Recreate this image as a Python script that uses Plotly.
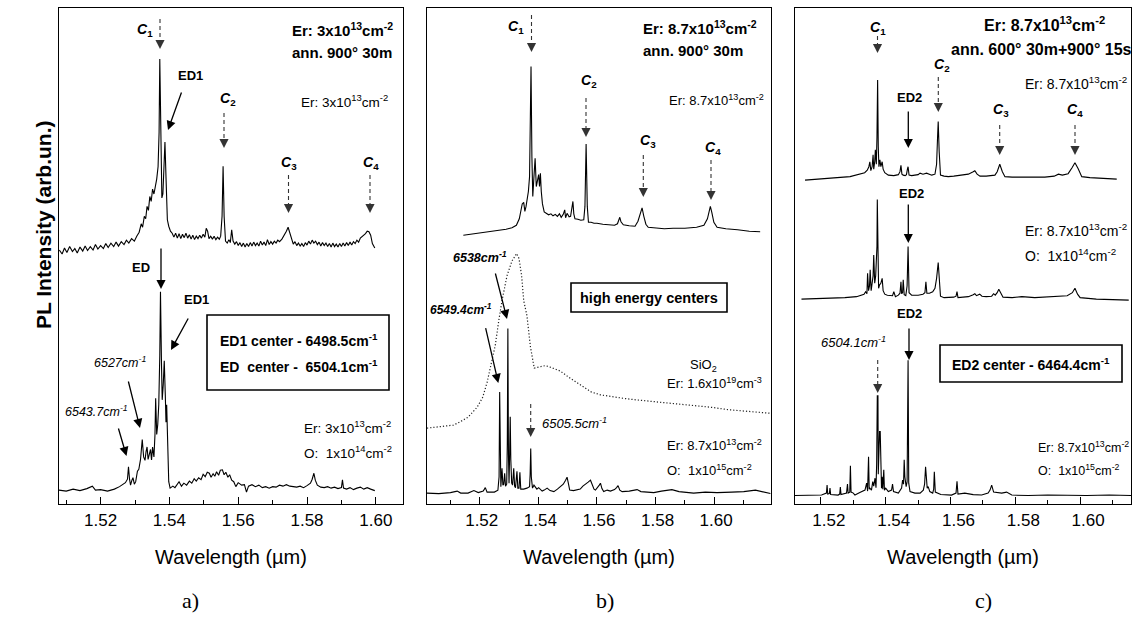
import plotly.graph_objects as go

W, H = 1138, 622

# ---------------- data (wavelength um, intensity arb. units; 0..100 = panel height) -------------
A_TOP = [
    (1.5080, 51.2), (1.5088, 50.4), (1.5095, 51.6), (1.5102, 50.7), (1.5110, 51.9), (1.5118, 50.9),
    (1.5125, 51.5), (1.5132, 50.6), (1.5140, 51.8), (1.5148, 51.0), (1.5155, 52.0), (1.5162, 51.1),
    (1.5170, 51.9), (1.5178, 51.2), (1.5185, 52.3), (1.5192, 51.4), (1.5200, 52.1), (1.5208, 51.5),
    (1.5215, 52.5), (1.5222, 51.7), (1.5230, 52.6), (1.5238, 51.9), (1.5245, 52.8), (1.5252, 52.0),
    (1.5260, 52.9), (1.5268, 52.3), (1.5275, 53.2), (1.5282, 52.6), (1.5290, 53.5), (1.5298, 53.0),
    (1.5305, 54.0), (1.5312, 54.8), (1.5318, 56.5), (1.5322, 55.8), (1.5327, 58.0), (1.5331, 57.5),
    (1.5335, 60.0), (1.5339, 59.2), (1.5343, 62.0), (1.5347, 61.0), (1.5351, 63.5), (1.5355, 62.5),
    (1.5359, 64.0), (1.5363, 65.5), (1.5367, 68.0), (1.5370, 75.0), (1.5372, 89.7), (1.5375, 72.0),
    (1.5378, 61.7), (1.5381, 62.5), (1.5384, 68.0), (1.5387, 73.0), (1.5390, 66.0), (1.5394, 57.3),
    (1.5398, 56.0), (1.5403, 55.0), (1.5408, 54.6), (1.5413, 53.8), (1.5418, 54.6), (1.5423, 53.6),
    (1.5428, 54.5), (1.5433, 53.5), (1.5438, 54.4), (1.5443, 53.7), (1.5448, 54.6), (1.5453, 53.6),
    (1.5458, 54.3), (1.5463, 53.4), (1.5468, 54.2), (1.5473, 53.3), (1.5478, 54.0), (1.5483, 53.5),
    (1.5488, 54.2), (1.5493, 53.6), (1.5498, 54.4), (1.5503, 53.8), (1.5507, 55.6), (1.5511, 55.0),
    (1.5515, 53.5), (1.5520, 54.0), (1.5525, 53.4), (1.5530, 54.0), (1.5535, 53.3), (1.5540, 53.8),
    (1.5545, 53.4), (1.5549, 54.0), (1.5553, 58.0), (1.5556, 68.1), (1.5559, 58.0), (1.5563, 53.0),
    (1.5568, 52.6), (1.5573, 53.3), (1.5577, 52.7), (1.5581, 55.3), (1.5585, 53.0), (1.5590, 52.4),
    (1.5595, 52.9), (1.5600, 52.1), (1.5605, 52.7), (1.5610, 51.9), (1.5615, 52.6), (1.5620, 51.8),
    (1.5625, 52.5), (1.5630, 51.9), (1.5635, 52.7), (1.5640, 52.0), (1.5645, 52.8), (1.5650, 52.1),
    (1.5655, 52.6), (1.5660, 52.0), (1.5665, 53.0), (1.5670, 52.2), (1.5675, 52.8), (1.5680, 52.1),
    (1.5685, 53.3), (1.5690, 52.3), (1.5695, 52.9), (1.5700, 52.4), (1.5705, 53.0), (1.5710, 52.6),
    (1.5715, 53.2), (1.5720, 52.9), (1.5727, 53.4), (1.5735, 54.3), (1.5740, 55.0), (1.5745, 55.8),
    (1.5750, 54.5), (1.5755, 53.2), (1.5760, 52.4), (1.5765, 52.9), (1.5770, 52.1), (1.5775, 52.6),
    (1.5780, 52.0), (1.5785, 52.5), (1.5790, 51.9), (1.5795, 52.7), (1.5800, 52.2), (1.5805, 53.0),
    (1.5810, 52.4), (1.5815, 53.2), (1.5820, 52.6), (1.5825, 53.0), (1.5830, 52.3), (1.5835, 52.8),
    (1.5840, 52.0), (1.5845, 52.7), (1.5850, 52.1), (1.5855, 52.6), (1.5860, 51.9), (1.5865, 52.5),
    (1.5870, 51.8), (1.5875, 52.6), (1.5880, 51.9), (1.5885, 52.4), (1.5890, 51.8), (1.5895, 52.5),
    (1.5900, 51.9), (1.5905, 52.6), (1.5910, 52.0), (1.5915, 52.7), (1.5920, 52.1), (1.5925, 52.8),
    (1.5930, 52.2), (1.5935, 52.9), (1.5940, 52.5), (1.5945, 53.2), (1.5950, 52.8), (1.5955, 53.6),
    (1.5962, 54.0), (1.5970, 54.5), (1.5975, 55.0), (1.5980, 54.9), (1.5985, 54.2), (1.5990, 52.5),
    (1.5997, 51.6),
]

A_BOT = [
    (1.5079, 2.8), (1.5100, 2.6), (1.5120, 3.0), (1.5140, 2.7), (1.5160, 3.1), (1.5176, 3.6),
    (1.5185, 2.8), (1.5200, 2.9), (1.5220, 2.6), (1.5240, 3.0), (1.5255, 3.5), (1.5265, 4.0),
    (1.5272, 4.3), (1.5278, 5.0), (1.5281, 7.5), (1.5284, 5.0), (1.5287, 3.8), (1.5291, 4.8),
    (1.5294, 5.3), (1.5298, 4.0), (1.5302, 4.5), (1.5307, 6.6), (1.5311, 7.0), (1.5316, 9.0),
    (1.5321, 13.0), (1.5325, 9.5), (1.5329, 8.8), (1.5332, 10.5), (1.5335, 11.5), (1.5338, 9.0),
    (1.5342, 10.5), (1.5345, 11.0), (1.5348, 8.9), (1.5351, 11.5), (1.5355, 9.5), (1.5358, 14.0),
    (1.5360, 21.3), (1.5363, 14.0), (1.5366, 16.0), (1.5369, 20.0), (1.5372, 30.0), (1.5374, 42.8),
    (1.5377, 28.0), (1.5379, 21.0), (1.5382, 24.0), (1.5385, 28.9), (1.5388, 22.0), (1.5390, 16.5),
    (1.5392, 20.0), (1.5395, 12.0), (1.5398, 4.5), (1.5402, 3.2), (1.5410, 3.6), (1.5416, 3.3),
    (1.5428, 4.5), (1.5435, 3.6), (1.5442, 4.2), (1.5450, 3.8), (1.5458, 4.6), (1.5465, 4.2),
    (1.5472, 5.1), (1.5478, 4.6), (1.5485, 5.3), (1.5492, 4.9), (1.5498, 6.0), (1.5504, 5.5),
    (1.5510, 6.4), (1.5516, 6.2), (1.5521, 5.4), (1.5527, 6.1), (1.5532, 5.6), (1.5537, 6.5),
    (1.5543, 5.8), (1.5548, 6.8), (1.5554, 6.9), (1.5559, 5.9), (1.5564, 6.4), (1.5570, 5.4),
    (1.5575, 5.9), (1.5581, 4.8), (1.5587, 4.5), (1.5593, 3.5), (1.5600, 4.3), (1.5610, 3.8),
    (1.5618, 3.9), (1.5624, 2.4), (1.5630, 3.6), (1.5640, 3.9), (1.5650, 3.5), (1.5660, 3.8),
    (1.5670, 3.3), (1.5680, 3.5), (1.5690, 3.2), (1.5700, 3.5), (1.5710, 3.4), (1.5720, 3.8),
    (1.5730, 3.6), (1.5740, 3.9), (1.5750, 3.6), (1.5760, 3.5), (1.5770, 3.4), (1.5780, 3.6),
    (1.5790, 3.3), (1.5800, 3.7), (1.5810, 4.2), (1.5815, 5.0), (1.5820, 6.2), (1.5824, 4.8),
    (1.5830, 3.8), (1.5840, 3.4), (1.5850, 3.3), (1.5860, 3.5), (1.5870, 3.2), (1.5880, 3.4),
    (1.5890, 3.1), (1.5900, 3.3), (1.5903, 4.9), (1.5906, 3.2), (1.5915, 3.0), (1.5925, 3.3),
    (1.5935, 2.9), (1.5945, 3.2), (1.5955, 3.4), (1.5965, 3.0), (1.5975, 3.3), (1.5985, 3.0),
    (1.5997, 2.7),
]

B_TOP = [
    (1.5144, 54.2), (1.5170, 54.4), (1.5200, 54.6), (1.5230, 54.8), (1.5260, 55.1), (1.5290, 55.4),
    (1.5310, 55.7), (1.5325, 56.2), (1.5335, 57.5), (1.5341, 59.3), (1.5345, 60.5), (1.5350, 60.8),
    (1.5354, 59.0), (1.5358, 60.0), (1.5362, 61.5), (1.5366, 63.0), (1.5370, 66.0), (1.5373, 75.0),
    (1.5375, 88.2), (1.5378, 70.0), (1.5381, 62.0), (1.5385, 66.0), (1.5389, 69.7), (1.5393, 64.0),
    (1.5397, 65.5), (1.5401, 66.4), (1.5404, 64.0), (1.5407, 66.7), (1.5410, 63.0), (1.5414, 60.5),
    (1.5420, 58.9), (1.5428, 58.6), (1.5435, 58.3), (1.5443, 58.5), (1.5450, 58.1), (1.5458, 58.4),
    (1.5465, 58.0), (1.5472, 58.5), (1.5478, 57.8), (1.5485, 58.4), (1.5490, 59.3), (1.5493, 57.7),
    (1.5498, 58.6), (1.5505, 57.9), (1.5510, 58.0), (1.5514, 59.5), (1.5518, 61.0), (1.5521, 58.5),
    (1.5525, 57.5), (1.5535, 57.4), (1.5545, 57.2), (1.5555, 57.3), (1.5559, 60.0), (1.5563, 72.6),
    (1.5567, 60.0), (1.5571, 56.8), (1.5580, 56.8), (1.5590, 56.6), (1.5600, 56.6), (1.5620, 56.4),
    (1.5640, 56.3), (1.5660, 56.2), (1.5670, 56.5), (1.5675, 57.4), (1.5678, 57.8), (1.5682, 56.9),
    (1.5690, 56.3), (1.5710, 56.1), (1.5730, 56.0), (1.5740, 57.0), (1.5747, 58.3), (1.5754, 59.7),
    (1.5760, 58.0), (1.5767, 56.4), (1.5775, 55.8), (1.5800, 55.6), (1.5830, 55.5), (1.5860, 55.6),
    (1.5900, 55.6), (1.5940, 55.8), (1.5965, 56.2), (1.5977, 57.5), (1.5982, 58.8), (1.5987, 60.0),
    (1.5992, 58.8), (1.5999, 56.8), (1.6010, 55.8), (1.6040, 55.5), (1.6080, 55.3), (1.6120, 55.0),
    (1.6157, 54.9),
]

B_SIO2 = [
    (1.5020, 15.3), (1.5050, 15.5), (1.5080, 15.6), (1.5110, 15.9), (1.5134, 16.6), (1.5160, 17.5),
    (1.5191, 19.5), (1.5210, 21.5), (1.5225, 24.5), (1.5240, 28.5), (1.5253, 32.0), (1.5265, 37.0),
    (1.5276, 41.0), (1.5293, 46.0), (1.5310, 49.0), (1.5326, 50.5), (1.5334, 49.5), (1.5343, 46.0),
    (1.5350, 41.0), (1.5361, 38.0), (1.5373, 31.7), (1.5386, 27.4), (1.5400, 27.6), (1.5424, 27.9),
    (1.5445, 27.5), (1.5475, 26.8), (1.5510, 25.3), (1.5543, 24.0), (1.5580, 22.6), (1.5612, 22.0),
    (1.5660, 21.5), (1.5703, 21.2), (1.5750, 20.9), (1.5800, 20.6), (1.5873, 20.3), (1.5920, 19.9),
    (1.5990, 19.5), (1.6050, 19.0), (1.6120, 18.6), (1.6191, 18.3),
]

B_BOT = [
    (1.5020, 2.2), (1.5060, 2.1), (1.5100, 2.3), (1.5123, 2.6), (1.5135, 2.2), (1.5160, 2.2),
    (1.5180, 2.7), (1.5195, 2.3), (1.5212, 2.6), (1.5219, 3.3), (1.5225, 2.4), (1.5250, 2.4),
    (1.5262, 2.8), (1.5266, 5.5), (1.5268, 22.6), (1.5270, 6.0), (1.5272, 3.5), (1.5276, 7.2),
    (1.5279, 3.8), (1.5282, 4.0), (1.5285, 6.2), (1.5288, 3.6), (1.5292, 4.0), (1.5294, 12.0),
    (1.5296, 35.4), (1.5298, 10.0), (1.5300, 4.2), (1.5302, 10.0), (1.5304, 17.6), (1.5306, 9.0),
    (1.5309, 4.2), (1.5312, 3.8), (1.5316, 7.2), (1.5319, 3.6), (1.5322, 3.3), (1.5327, 6.6),
    (1.5330, 3.2), (1.5334, 3.2), (1.5337, 6.4), (1.5340, 3.0), (1.5350, 3.0), (1.5361, 3.2),
    (1.5370, 3.5), (1.5372, 6.0), (1.5374, 11.2), (1.5376, 5.5), (1.5380, 3.2), (1.5385, 3.8),
    (1.5390, 3.5), (1.5395, 3.0), (1.5401, 3.3), (1.5408, 2.9), (1.5413, 2.6), (1.5420, 2.8),
    (1.5430, 3.2), (1.5440, 2.7), (1.5453, 2.5), (1.5465, 3.0), (1.5475, 3.5), (1.5485, 4.0),
    (1.5493, 4.8), (1.5498, 5.4), (1.5503, 4.0), (1.5507, 2.8), (1.5520, 2.7), (1.5535, 2.9),
    (1.5543, 3.0), (1.5552, 3.6), (1.5560, 3.9), (1.5570, 4.4), (1.5578, 4.8), (1.5584, 3.9),
    (1.5590, 3.0), (1.5595, 2.8), (1.5603, 3.3), (1.5608, 3.8), (1.5612, 4.2), (1.5617, 3.1),
    (1.5623, 2.5), (1.5635, 2.8), (1.5646, 2.6), (1.5660, 2.9), (1.5667, 3.3), (1.5672, 3.7),
    (1.5678, 2.8), (1.5686, 2.5), (1.5710, 2.6), (1.5737, 2.9), (1.5750, 2.5), (1.5770, 2.4),
    (1.5794, 2.3), (1.5820, 2.6), (1.5856, 2.9), (1.5880, 2.5), (1.5910, 2.3), (1.5930, 2.2),
    (1.5970, 2.4), (1.6010, 2.3), (1.6060, 2.4), (1.6101, 2.5), (1.6141, 2.8), (1.6170, 2.4),
    (1.6192, 2.1),
]

C_TOP = [
    (1.5151, 65.3), (1.5200, 65.6), (1.5250, 65.8), (1.5290, 66.0), (1.5320, 66.5), (1.5335, 66.8),
    (1.5343, 67.3), (1.5348, 68.0), (1.5351, 69.0), (1.5354, 67.2), (1.5358, 68.0), (1.5361, 70.4),
    (1.5363, 67.5), (1.5366, 69.0), (1.5368, 71.4), (1.5371, 68.5), (1.5373, 74.0), (1.5375, 85.5),
    (1.5377, 72.0), (1.5379, 68.0), (1.5382, 69.4), (1.5385, 68.0), (1.5389, 69.0), (1.5392, 67.5),
    (1.5397, 66.8), (1.5408, 66.3), (1.5425, 66.2), (1.5439, 66.4), (1.5444, 67.0), (1.5447, 68.3),
    (1.5450, 66.5), (1.5454, 66.3), (1.5460, 66.2), (1.5464, 66.4), (1.5467, 67.5), (1.5469, 68.0),
    (1.5472, 66.3), (1.5480, 66.2), (1.5490, 66.3), (1.5500, 66.4), (1.5506, 66.7), (1.5515, 66.5),
    (1.5526, 66.7), (1.5535, 66.4), (1.5542, 66.3), (1.5552, 66.5), (1.5557, 68.5), (1.5560, 74.0),
    (1.5562, 77.1), (1.5565, 71.0), (1.5569, 66.3), (1.5580, 66.1), (1.5593, 66.0), (1.5610, 66.1),
    (1.5619, 66.2), (1.5640, 66.3), (1.5655, 66.5), (1.5670, 67.0), (1.5675, 67.2), (1.5682, 66.5),
    (1.5691, 66.1), (1.5710, 66.1), (1.5727, 66.2), (1.5737, 66.3), (1.5744, 67.0), (1.5752, 68.5),
    (1.5760, 67.0), (1.5768, 66.0), (1.5790, 65.9), (1.5819, 65.9), (1.5860, 66.0), (1.5891, 65.9),
    (1.5920, 66.1), (1.5933, 66.5), (1.5945, 66.3), (1.5963, 66.6), (1.5975, 67.8), (1.5984, 68.8),
    (1.5994, 67.6), (1.6005, 66.0), (1.6030, 65.8), (1.6060, 65.7), (1.6090, 65.6), (1.6113, 65.5),
]

C_MID = [
    (1.5140, 41.3), (1.5190, 41.4), (1.5240, 41.5), (1.5274, 41.6), (1.5310, 41.8), (1.5326, 42.1),
    (1.5333, 42.3), (1.5338, 42.8), (1.5342, 42.4), (1.5344, 46.5), (1.5347, 43.0), (1.5350, 44.0),
    (1.5352, 47.2), (1.5355, 43.0), (1.5358, 44.5), (1.5361, 46.0), (1.5363, 50.2), (1.5366, 44.5),
    (1.5369, 46.0), (1.5371, 50.7), (1.5373, 52.0), (1.5374, 61.4), (1.5376, 50.0), (1.5378, 43.5),
    (1.5381, 44.2), (1.5385, 44.5), (1.5389, 45.5), (1.5392, 43.0), (1.5397, 42.3), (1.5405, 42.1),
    (1.5421, 42.0), (1.5425, 42.8), (1.5430, 41.8), (1.5439, 42.1), (1.5444, 42.5), (1.5447, 44.8),
    (1.5449, 42.4), (1.5452, 42.6), (1.5454, 45.2), (1.5457, 42.2), (1.5462, 42.0), (1.5466, 44.0),
    (1.5469, 51.9), (1.5472, 42.6), (1.5480, 42.1), (1.5500, 42.1), (1.5515, 42.3), (1.5521, 42.6),
    (1.5524, 44.8), (1.5527, 42.5), (1.5535, 42.5), (1.5545, 42.8), (1.5552, 43.5), (1.5557, 45.5),
    (1.5562, 48.7), (1.5566, 44.0), (1.5569, 41.9), (1.5580, 41.6), (1.5593, 41.6), (1.5610, 41.7),
    (1.5617, 41.9), (1.5620, 42.8), (1.5623, 41.6), (1.5640, 41.7), (1.5655, 41.8), (1.5670, 42.2),
    (1.5675, 42.4), (1.5680, 42.0), (1.5690, 42.3), (1.5697, 41.9), (1.5710, 41.8), (1.5727, 41.9),
    (1.5733, 42.4), (1.5738, 42.1), (1.5744, 42.6), (1.5749, 43.3), (1.5755, 42.4), (1.5762, 41.7),
    (1.5790, 41.6), (1.5820, 41.8), (1.5860, 41.6), (1.5900, 41.8), (1.5960, 42.0), (1.5976, 42.6),
    (1.5984, 43.5), (1.5992, 42.3), (1.6000, 41.6), (1.6050, 41.3), (1.6100, 41.2), (1.6150, 41.1),
]

C_BOT = [
    (1.5120, 1.7), (1.5160, 1.8), (1.5202, 1.8), (1.5217, 2.2), (1.5219, 3.8), (1.5221, 2.0),
    (1.5226, 2.1), (1.5228, 3.2), (1.5230, 1.9), (1.5253, 1.8), (1.5258, 2.0), (1.5260, 3.4),
    (1.5262, 1.9), (1.5279, 2.2), (1.5282, 4.0), (1.5284, 2.2), (1.5289, 2.4), (1.5291, 7.7),
    (1.5293, 2.4), (1.5300, 2.2), (1.5305, 1.8), (1.5320, 2.3), (1.5326, 2.5), (1.5336, 2.8),
    (1.5341, 4.2), (1.5344, 2.6), (1.5347, 9.5), (1.5349, 3.0), (1.5351, 3.2), (1.5356, 2.8),
    (1.5360, 4.5), (1.5363, 3.6), (1.5367, 5.2), (1.5370, 3.3), (1.5372, 8.0), (1.5374, 21.8),
    (1.5376, 21.8), (1.5377, 6.0), (1.5379, 12.0), (1.5381, 14.6), (1.5383, 14.6), (1.5385, 5.0),
    (1.5387, 3.2), (1.5389, 5.5), (1.5391, 3.0), (1.5394, 6.9), (1.5396, 2.8), (1.5400, 3.2),
    (1.5408, 2.5), (1.5418, 2.8), (1.5421, 4.0), (1.5424, 2.5), (1.5439, 2.2), (1.5449, 3.2),
    (1.5452, 4.8), (1.5455, 4.0), (1.5457, 8.9), (1.5459, 5.5), (1.5463, 3.5), (1.5466, 4.5),
    (1.5469, 29.0), (1.5471, 4.2), (1.5475, 2.5), (1.5490, 2.2), (1.5506, 2.2), (1.5516, 2.8),
    (1.5520, 4.0), (1.5523, 7.5), (1.5526, 3.5), (1.5528, 3.2), (1.5531, 3.5), (1.5536, 2.5),
    (1.5545, 2.2), (1.5548, 3.0), (1.5550, 6.5), (1.5553, 2.4), (1.5570, 1.9), (1.5603, 1.8),
    (1.5617, 2.2), (1.5620, 4.6), (1.5623, 2.0), (1.5644, 2.2), (1.5670, 1.9), (1.5696, 1.8),
    (1.5716, 2.2), (1.5722, 2.8), (1.5727, 3.8), (1.5733, 2.4), (1.5758, 2.2), (1.5773, 2.4),
    (1.5789, 1.8), (1.5840, 1.7), (1.5900, 1.8), (1.5960, 1.7), (1.6020, 1.7), (1.6090, 1.8),
    (1.6159, 1.7),
]

X_RANGES = {"a": [1.5079, 1.6079], "b": [1.5020, 1.6194], "c": [1.5120, 1.6157]}
TICK_LABEL_FMT = ".2f"

# ---------------- figure ----------------
SANS = "Liberation Sans, Arial, sans-serif"
SERIF = "Liberation Serif, Times New Roman, serif"

fig = go.Figure()


def add_spec(points, xa, ya, dash="solid", width=1.1, color="black"):
    xs = [p[0] for p in points]
    ys = [p[1] for p in points]
    fig.add_trace(go.Scatter(x=xs, y=ys, mode="lines", xaxis=xa, yaxis=ya,
                             line=dict(color=color, width=width, dash=dash),
                             showlegend=False, hoverinfo="skip"))


add_spec(A_TOP, "x", "y")
add_spec(A_BOT, "x", "y")
add_spec(B_TOP, "x2", "y2")
add_spec(B_SIO2, "x2", "y2", dash="1.2px,2px", width=1.2, color="#222")
add_spec(B_BOT, "x2", "y2")
add_spec(C_TOP, "x3", "y3")
add_spec(C_MID, "x3", "y3")
add_spec(C_BOT, "x3", "y3")


def xdom(p0, p1):
    return [p0 / W, p1 / W]


YDOM = [1 - 504 / H, 1 - 8 / H]


def xaxis(rng, dom, anchor, shift=0):
    return dict(domain=dom, range=rng, anchor=anchor, tickmode="linear", tick0=1.50, dtick=0.02,
                tickformat=TICK_LABEL_FMT, ticks="inside", ticklen=7, tickwidth=1, tickcolor="black",
                minor=dict(tick0=1.50, dtick=0.01, ticks="inside", ticklen=4, tickwidth=1, tickcolor="black"),
                showline=True, linecolor="black", linewidth=1.3, mirror=True, showgrid=False,
                zeroline=False, tickfont=dict(family=SANS, size=17, color="black"),
                ticklabelshift=shift, fixedrange=True)


def yaxis(anchor):
    return dict(domain=YDOM, range=[0, 100], anchor=anchor, showticklabels=False, ticks="",
                showline=True, linecolor="black", linewidth=1.3, mirror=True, showgrid=False,
                zeroline=False, fixedrange=True)


ann = []
shapes = []


def PX(px):
    return px / W


def PY(py):
    return 1 - py / H


def T(px, py, text, size, xanchor="center", family=SANS, angle=0, color="black"):
    ann.append(dict(x=PX(px), y=PY(py), xref="paper", yref="paper", text=text, showarrow=False,
                    xanchor=xanchor, yanchor="middle", textangle=angle,
                    font=dict(family=family, size=size, color=color)))


def ARROW(x0, y0, x1, y1, color="black"):
    ann.append(dict(x=PX(x1), y=PY(y1), xref="paper", yref="paper", text="", showarrow=True,
                    ax=x0 - x1, ay=y0 - y1, arrowhead=2, arrowsize=1.4, arrowwidth=1.3,
                    arrowcolor=color, standoff=0))


def DARROW(x, y0, y1, color="#333"):
    shapes.append(dict(type="line", xref="paper", yref="paper", x0=PX(x), x1=PX(x),
                       y0=PY(y0), y1=PY(y1 - 8), line=dict(color=color, width=1.1, dash="4px,3px")))
    ARROW(x, y1 - 9, x, y1, color=color)


def RECT(x0, y0, x1, y1):
    shapes.append(dict(type="rect", xref="paper", yref="paper", x0=PX(x0), x1=PX(x1),
                       y0=PY(y1), y1=PY(y0), line=dict(color="black", width=1.6),
                       fillcolor="white", layer="above"))


def C(n):
    return "<b><i>C</i><sub>%d</sub></b>" % n


NB = "\u00a0"
ER87 = "Er: 8.7x10<sup>13</sup>cm<sup>-2</sup>"
ER3 = "Er: 3x10<sup>13</sup>cm<sup>-2</sup>"

# ---- panel a ----
T(145, 30, C(1), 14)
DARROW(160, 19, 49)
T(290, 30, "<b>" + ER3 + "</b>", 15, xanchor="left")
T(290, 52, "<b>ann. 900° 30m</b>", 15, xanchor="left")
T(190, 75, "<b>ED1</b>", 13)
ARROW(182, 91, 168, 130)
T(228, 99, C(2), 14)
DARROW(224, 113, 148)
T(299, 101, ER3, 13.5, xanchor="left")
T(289, 163, C(3), 14)
DARROW(288.5, 175, 213)
T(370.5, 163, C(4), 14)
DARROW(370, 175, 213)
T(141, 267, "<b>ED</b>", 13)
ARROW(161, 247, 161, 289)
T(196.5, 299, "<b>ED1</b>", 13)
ARROW(189, 317, 171, 350)
RECT(207, 315, 389, 390)
T(218, 340, "<b>ED1 center - 6498.5cm<sup>-1</sup></b>", 14, xanchor="left")
T(218, 366, "<b>ED" + NB + NB + "center -" + NB + NB + "6504.1cm<sup>-1</sup></b>", 14, xanchor="left")
T(120, 362, "<i>6527cm<sup>-1</sup></i>", 12.5)
ARROW(128, 380, 140, 428)
T(96.5, 411, "<i>6543.7cm<sup>-1</sup></i>", 12.5)
ARROW(118, 427, 126.5, 456)
T(302, 427, ER3, 13.5, xanchor="left")
T(302, 452, "O:" + NB + NB + "1x10<sup>14</sup>cm<sup>-2</sup>", 13.5, xanchor="left")

# ---- panel b ----
T(515.5, 27, C(1), 14)
DARROW(531.5, 15, 52)
T(641, 27.5, "<b>" + ER87 + "</b>", 15, xanchor="left")
T(641, 50.5, "<b>ann. 900° 30m</b>", 15, xanchor="left")
T(589, 81.5, C(2), 14)
DARROW(586, 98, 137)
T(667, 100, ER87, 13, xanchor="left")
T(647.5, 140.5, C(3), 14)
DARROW(643.3, 155, 197)
T(712.5, 147.5, C(4), 14)
DARROW(711, 160, 200)
T(480, 256.5, "<b><i>6538cm<sup>-1</sup></i></b>", 12.5)
ARROW(495, 272, 507, 319)
T(461, 309, "<b><i>6549.4cm<sup>-1</sup></i></b>", 12)
ARROW(485.3, 326.7, 498.3, 383)
RECT(571, 283, 727, 312)
T(649, 298, "<b>high energy centers</b>", 14.5)
T(703, 365, "SiO<sub>2</sub>", 13)
T(665, 383, "Er: 1.6x10<sup>19</sup>cm<sup>-3</sup>", 13, xanchor="left")
T(540, 423, "<i>6505.5cm<sup>-1</sup></i>", 13, xanchor="left")
DARROW(530.7, 404, 437)
T(665, 445, ER87, 13, xanchor="left")
T(665, 470, "O:" + NB + NB + "1x10<sup>15</sup>cm<sup>-2</sup>", 13, xanchor="left")

# ---- panel c ----
T(877.5, 27.5, C(1), 14)
DARROW(877.5, 36, 53)
T(1044, 24.5, "<b>" + ER87 + "</b>", 16)
T(1041.5, 50, "<b>ann. 600° 30m+900° 15s</b>", 16)
T(941.7, 64.5, C(2), 14)
DARROW(938.3, 77, 112)
T(1023, 83, ER87, 14, xanchor="left")
T(909, 97.5, "<b>ED2</b>", 13)
ARROW(908.3, 110, 908.3, 148)
T(1000.7, 110.5, C(3), 14)
DARROW(999.7, 125, 155)
T(1075, 110.5, C(4), 14)
DARROW(1075, 125, 155)
T(911, 193, "<b>ED2</b>", 13)
ARROW(908.3, 203, 908.3, 243)
T(1023, 230, ER87, 14, xanchor="left")
T(1023, 255, "O:" + NB + NB + "1x10<sup>14</sup>cm<sup>-2</sup>", 14, xanchor="left")
T(909, 314, "<b>ED2</b>", 13)
ARROW(909, 327, 909, 360)
T(853, 342, "<i>6504.1cm<sup>-1</sup></i>", 13)
DARROW(877.7, 360, 393)
RECT(940, 345, 1122, 382)
T(1031, 364, "<b>ED2 center - 6464.4cm<sup>-1</sup></b>", 14)
T(1036, 447, ER87, 12.5, xanchor="left")
T(1036, 470, "O:" + NB + NB + "1x10<sup>15</sup>cm<sup>-2</sup>", 12.5, xanchor="left")

# ---- global labels ----
T(43, 225, "<b>PL Intensity (arb.un.)</b>", 21, angle=-90)
T(231, 557, "Wavelength (µm)", 20)
T(599, 557, "Wavelength (µm)", 20)
T(963, 557, "Wavelength (µm)", 20)
T(190, 600, "a)", 22, family=SERIF)
T(605, 600, "b)", 22, family=SERIF)
T(983, 600, "c)", 22, family=SERIF)

fig.update_layout(
    width=W, height=H, autosize=False,
    margin=dict(l=0, r=0, t=0, b=0, pad=0),
    paper_bgcolor="white", plot_bgcolor="white",
    xaxis=xaxis(X_RANGES["a"], xdom(59, 403), "y"),
    xaxis2=xaxis(X_RANGES["b"], xdom(427, 771), "y2", shift=2),
    xaxis3=xaxis(X_RANGES["c"], xdom(795, 1131), "y3", shift=8),
    yaxis=yaxis("x"), yaxis2=yaxis("x2"), yaxis3=yaxis("x3"),
    annotations=ann, shapes=shapes,
)

fig.write_html("out.html")
